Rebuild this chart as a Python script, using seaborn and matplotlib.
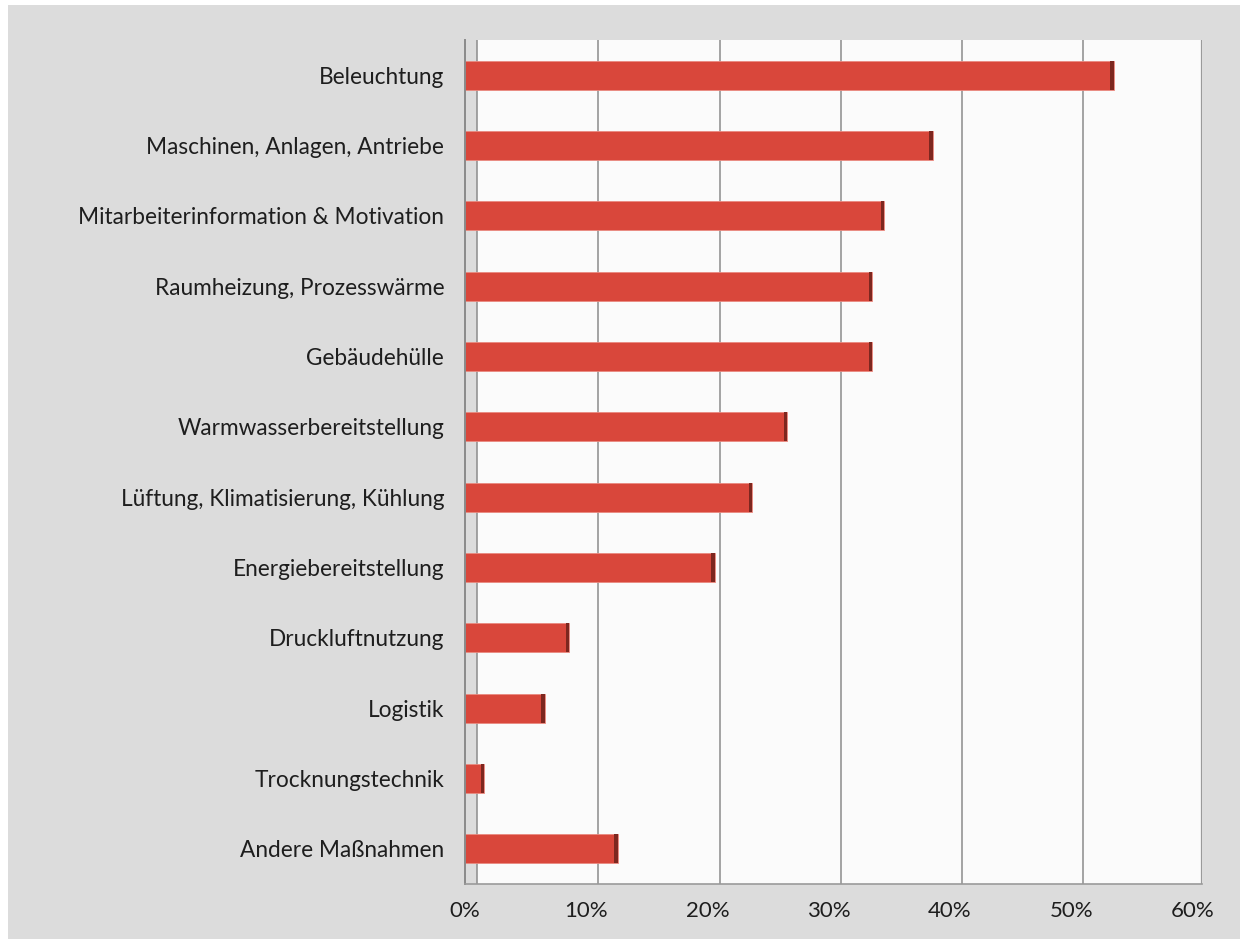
import matplotlib
matplotlib.use("Agg")
import matplotlib.pyplot as plt
from matplotlib.patches import Rectangle
from matplotlib.ticker import FixedLocator, PercentFormatter
import seaborn as sns
import pandas as pd

categories = [
    "Beleuchtung",
    "Maschinen, Anlagen, Antriebe",
    "Mitarbeiterinformation & Motivation",
    "Raumheizung, Prozesswärme",
    "Gebäudehülle",
    "Warmwasserbereitstellung",
    "Lüftung, Klimatisierung, Kühlung",
    "Energiebereitstellung",
    "Druckluftnutzung",
    "Logistik",
    "Trocknungstechnik",
    "Andere Maßnahmen",
]
shares = [53.5, 38.6, 34.6, 33.6, 33.6, 26.6, 23.7, 20.6, 8.6, 6.6, 1.6, 12.6]
x_ticks = [0, 10, 20, 30, 40, 50, 60]

df = pd.DataFrame({"Maßnahme": categories, "Anteil": shares})

sns.set_theme(style="white")
plt.rcParams["font.family"] = ["Lato", "DejaVu Sans"]

BG = "#dcdcdc"
BAR = "#d9473b"
BAR_END = "#7d271f"
GRID = "#8c8c8c"

fig = plt.figure(figsize=(12.45, 9.43), dpi=100, facecolor="white")
fig.patches.append(Rectangle((8 / 1245, 4 / 943), 1232 / 1245, 934 / 943,
                             transform=fig.transFigure, facecolor=BG,
                             edgecolor="none", zorder=-10))
ax = fig.add_axes([0.3735, 0.0626, 0.592, 0.895])
ax.set_facecolor(BG)

x_max = 60.8
grid_shift = 1.0

# white plot area with its own (slightly shifted) grid
ax.add_patch(Rectangle((grid_shift, -0.5), x_max - grid_shift, len(categories),
                       facecolor="#fbfbfb", edgecolor="none", zorder=0))
for t in x_ticks[:-1]:
    ax.axvline(t + grid_shift, color=GRID, lw=1.1, zorder=1)
ax.axvline(x_max - 0.02, color="#9a9a9a", lw=1.6, zorder=1)

sns.barplot(data=df, x="Anteil", y="Maßnahme", orient="h", color=BAR,
            width=0.41, saturation=1, edgecolor="#e98a80", linewidth=0.6,
            ax=ax, zorder=2)

# darker end cap on each bar
cap = 0.3
ax.barh(range(len(categories)), [cap] * len(categories),
        left=[v - cap for v in shares], height=0.41, color=BAR_END,
        edgecolor="none", zorder=3)

ax.set_xlim(0, x_max)
ax.set_ylim(len(categories) - 0.5, -0.5)
ax.xaxis.set_major_locator(FixedLocator(x_ticks))
ax.xaxis.set_major_formatter(PercentFormatter(decimals=0))
ax.set_xlabel("")
ax.set_ylabel("")

for side in ["top", "right"]:
    ax.spines[side].set_visible(False)
ax.spines["left"].set_color("#8a8a8a")
ax.spines["left"].set_linewidth(1.4)
ax.spines["bottom"].set_color("#9a9a9a")
ax.spines["bottom"].set_linewidth(1.2)

ax.tick_params(axis="y", which="major", length=0, pad=15, labelsize=16.3,
               labelcolor="#1e1e1e")
ax.yaxis.set_minor_locator(FixedLocator([i + 0.5 for i in range(-1, len(categories))]))
ax.tick_params(axis="y", which="minor", length=4, color="#8a8a8a", width=1)
ax.tick_params(axis="x", which="major", length=4, color="#9a9a9a", width=1,
               pad=8, labelsize=16, labelcolor="#1e1e1e")

fig.savefig("out.png", dpi=100, facecolor=fig.get_facecolor())
